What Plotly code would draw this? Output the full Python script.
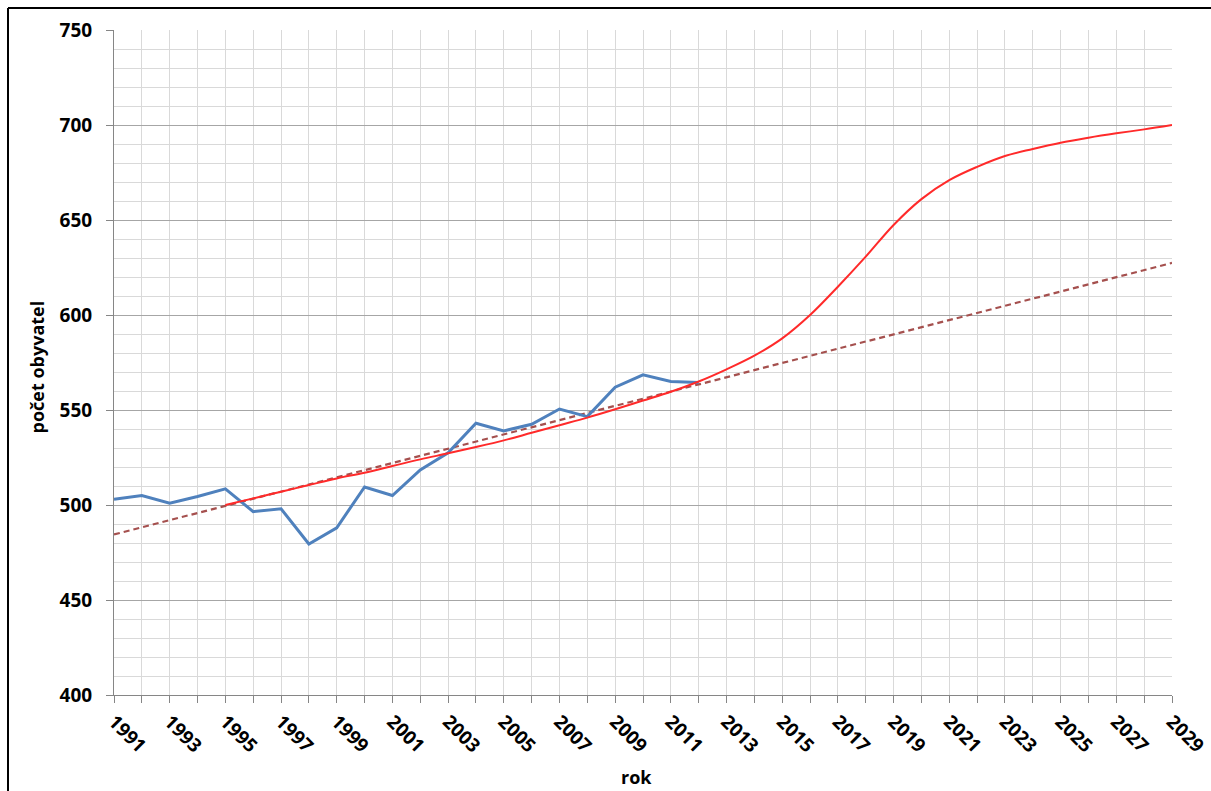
import plotly.graph_objects as go

# Observed population
years_obs = list(range(1991, 2013))
pop_obs = [503, 505, 501, 504.5, 508.5, 496.5, 498, 479.5, 488, 509.5, 505, 518.5,
           527.5, 543, 539, 542.5, 550.5, 546.5, 562, 568.5, 565, 564.5]

# Projection curve (red)
years_proj = list(range(1995, 2030))
pop_proj = [500, 503.5, 507, 510.5, 514, 517, 520.5, 524, 527.2, 530.5, 534, 538, 542,
            546, 550.4, 555, 559.6, 565, 571.4, 578.6, 587.7, 600, 614.9, 630.7, 647.4,
            661, 671, 678, 683.7, 687.4, 690.7, 693.3, 695.6, 697.7, 700]

# Linear trend (dashed)
years_trend = [1991, 2029]
pop_trend = [484.5, 627.4]

tick_years = list(range(1991, 2030, 2))

FONT = "Open Sans"
W, H = 1211, 791
L, R, T, B = 114, 39, 30, 96
PW, PH = W - L - R, H - T - B


def px_to_paper(px, py):
    return (px - L) / PW, (H - B - py) / PH


fig = go.Figure()
fig.add_trace(go.Scatter(x=years_trend, y=pop_trend, mode="lines",
                         line=dict(color="#A5504E", width=2.2, dash="6px,4px"),
                         hoverinfo="skip"))
fig.add_trace(go.Scatter(x=years_obs, y=pop_obs, mode="lines",
                         line=dict(color="#4F81BD", width=3)))
fig.add_trace(go.Scatter(x=years_proj, y=pop_proj, mode="lines",
                         line=dict(color="#FF2A2A", width=2, shape="spline", smoothing=1.0)))

fig.update_layout(
    width=W, height=H,
    margin=dict(l=L, r=R, t=T, b=B, autoexpand=False),
    paper_bgcolor="white", plot_bgcolor="white",
    showlegend=False,
    font=dict(family=FONT, color="black"),
)

fig.update_xaxes(
    range=[1991, 2029],
    tickvals=tick_years,
    ticktext=[str(y) for y in tick_years],
    tickangle=45,
    tickfont=dict(family=FONT, size=19, color="black", weight="bold"),
    ticks="outside", ticklen=7, tickcolor="#868686", tickwidth=1,
    showline=True, linecolor="#868686", linewidth=1,
    showgrid=True, gridcolor="#D9D9D9", gridwidth=1,
    minor=dict(dtick=1, tick0=1991, showgrid=True, gridcolor="#D9D9D9", gridwidth=1,
               ticks="outside", ticklen=7, tickcolor="#868686"),
    zeroline=False,
)

fig.update_yaxes(
    range=[400, 750],
    dtick=50, tick0=400,
    tickfont=dict(family=FONT, size=19, color="black", weight="bold"),
    ticks="outside", ticklen=7, tickcolor="#868686", tickwidth=1,
    ticklabelstandoff=10,
    showline=True, linecolor="#868686", linewidth=1,
    showgrid=True, gridcolor="#A6A6A6", gridwidth=1,
    minor=dict(dtick=10, showgrid=True, gridcolor="#D9D9D9", gridwidth=1, ticks=""),
    zeroline=False,
)

# axis titles
ax, ay = px_to_paper(36, 367.5)
fig.add_annotation(text="<b>počet obyvatel</b>", xref="paper", yref="paper", x=ax, y=ay,
                   textangle=-90, showarrow=False, xanchor="center", yanchor="middle",
                   font=dict(family=FONT, size=18, color="black"))
rx, ry = px_to_paper(636, 777)
fig.add_annotation(text="<b>rok</b>", xref="paper", yref="paper", x=rx, y=ry,
                   showarrow=False, xanchor="center", yanchor="middle",
                   font=dict(family=FONT, size=18, color="black"))

# outer chart border (top and left edges visible in the frame)
bx0, by_top = px_to_paper(8, 8)
bx1, by_bot = px_to_paper(W + 10, H + 10)
fig.add_shape(type="line", xref="paper", yref="paper", x0=bx0, x1=bx1, y0=by_top, y1=by_top,
              line=dict(color="black", width=2), layer="below")
fig.add_shape(type="line", xref="paper", yref="paper", x0=bx0, x1=bx0, y0=by_bot, y1=by_top,
              line=dict(color="black", width=2), layer="below")

fig.write_html("out.html",
               config={"displayModeBar": False},
               post_script="document.body.style.margin='0';document.body.style.overflow='hidden';")
